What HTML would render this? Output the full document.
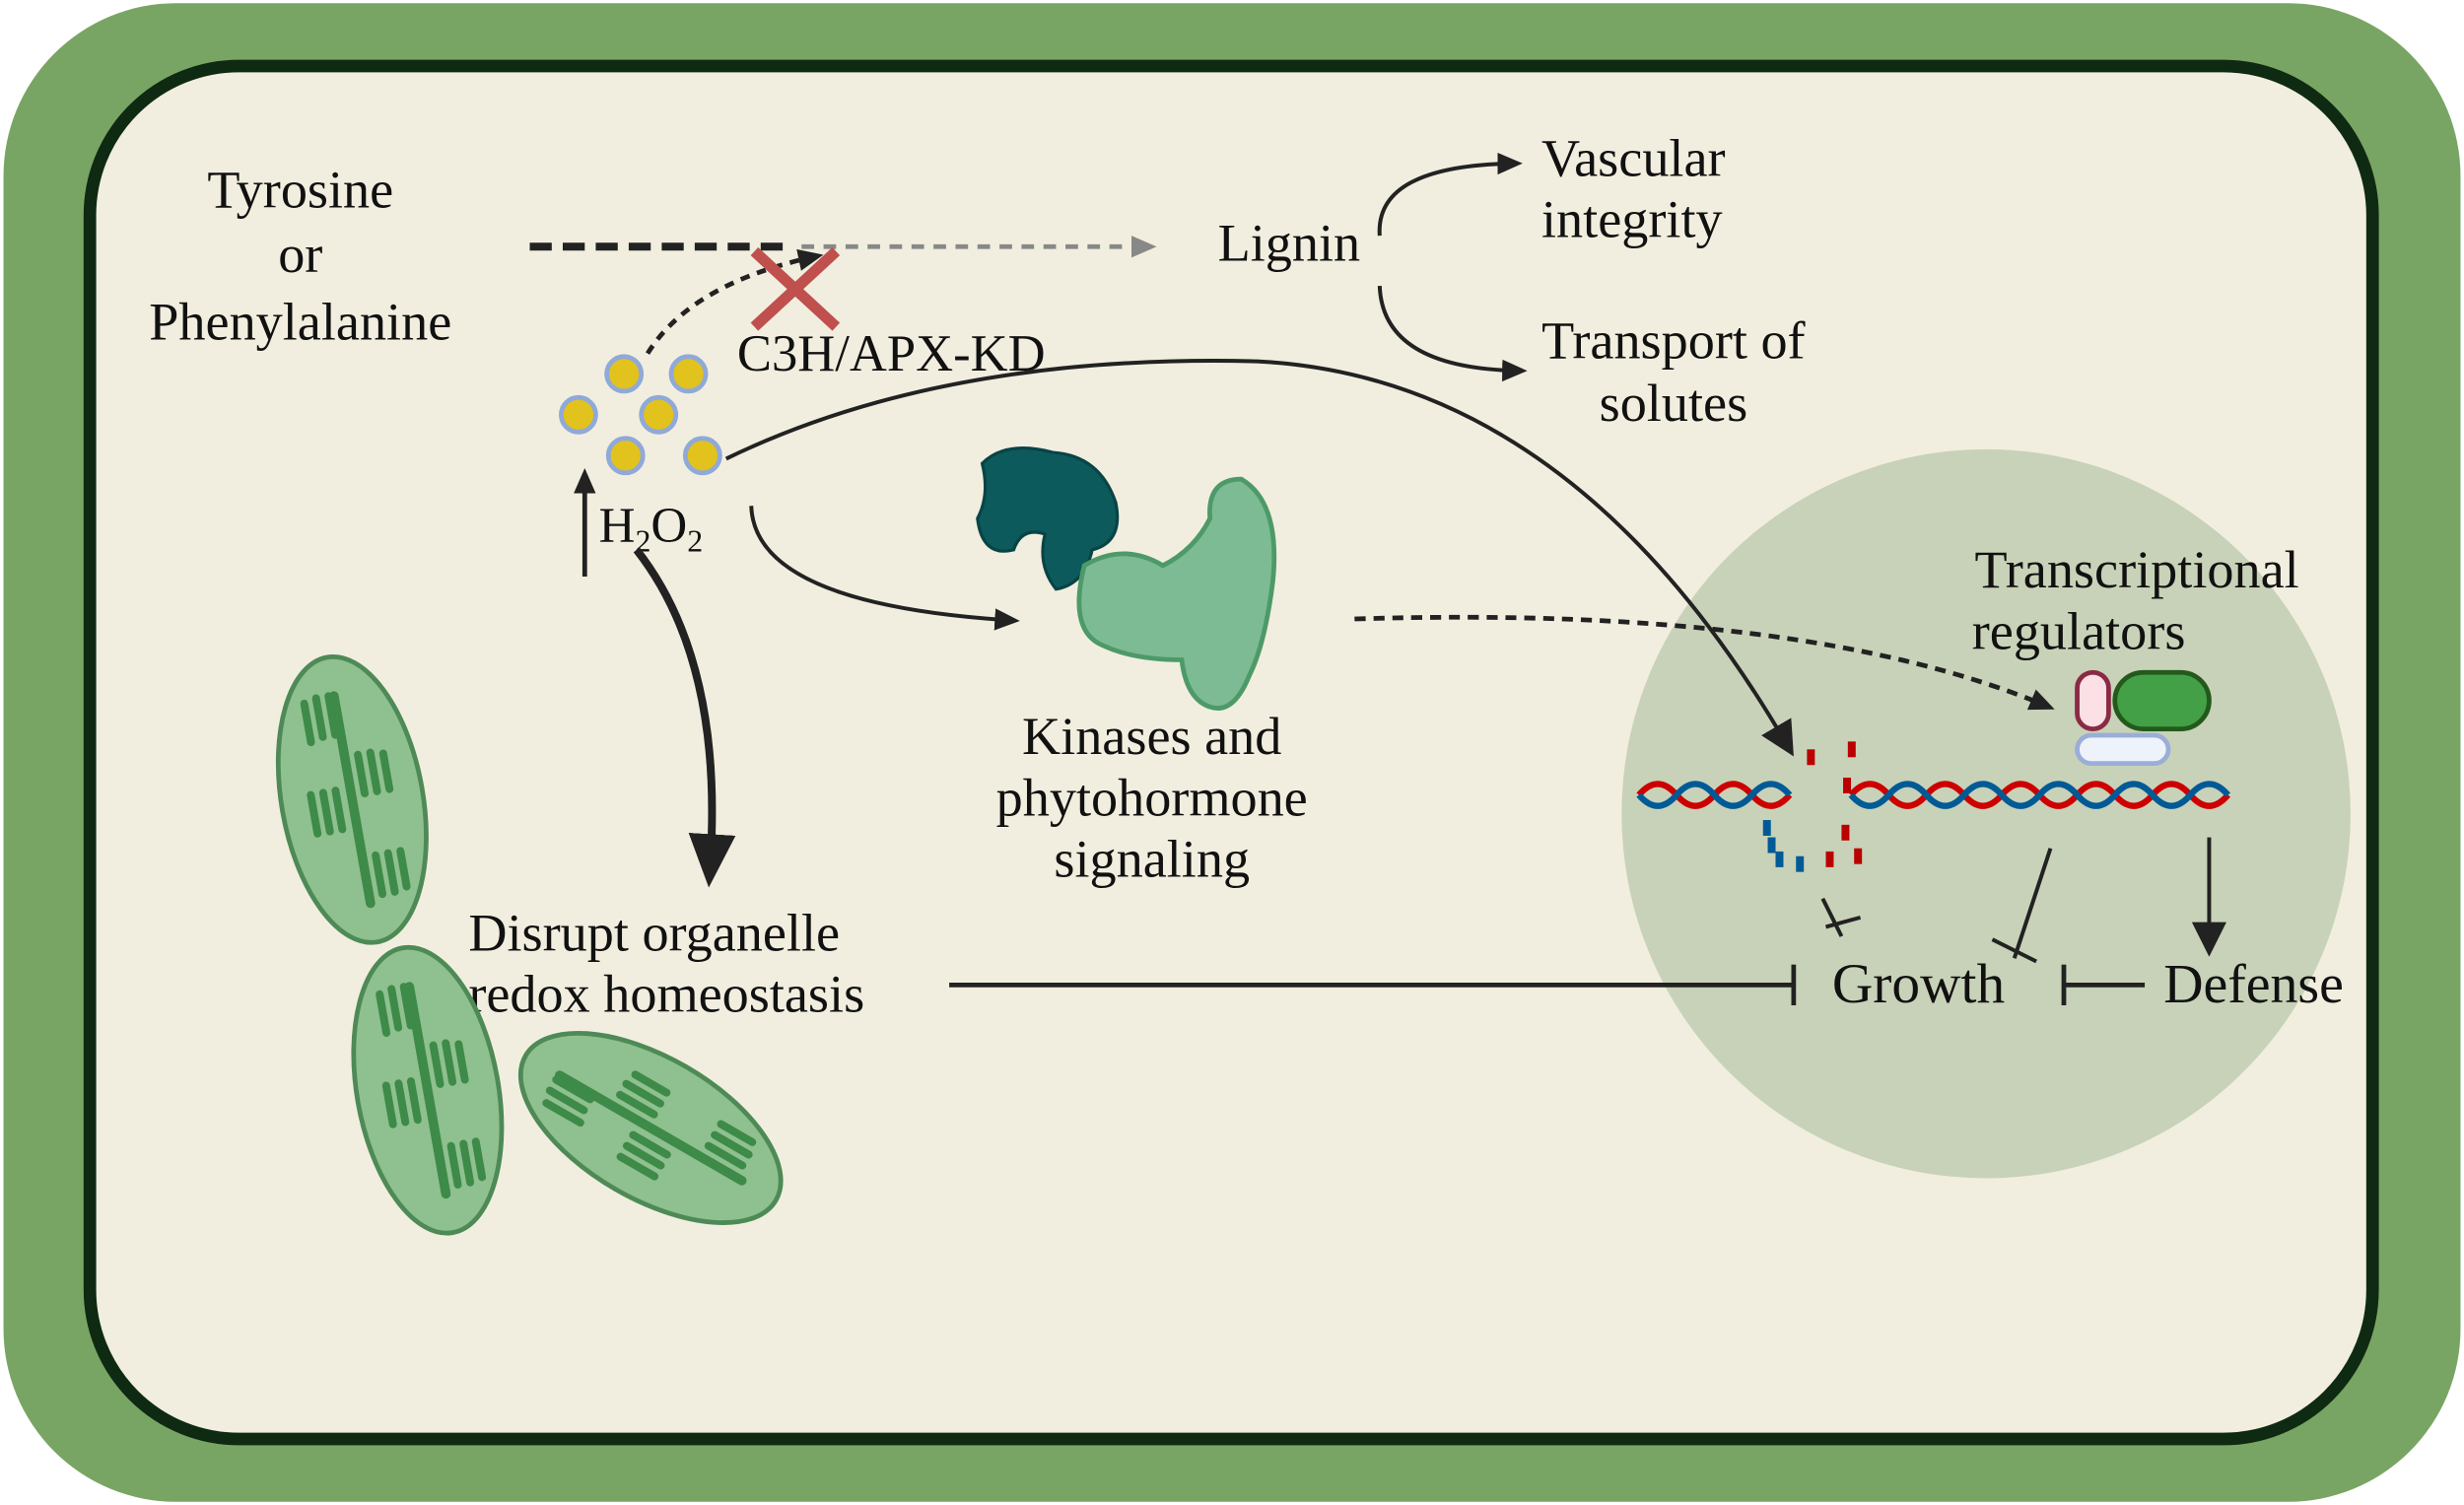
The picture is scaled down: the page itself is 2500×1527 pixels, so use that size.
<!DOCTYPE html>
<html><head><meta charset="utf-8"><style>
html,body{margin:0;padding:0;background:#fff;}
svg{display:block;}
text{font-family:"Liberation Serif",serif;fill:#111;}
</style></head><body>
<svg width="2500" height="1527" viewBox="0 0 1568 958" xmlns="http://www.w3.org/2000/svg">
<defs>
<marker id="ah" markerWidth="16" markerHeight="16" refX="12" refY="8" orient="auto" markerUnits="userSpaceOnUse" viewBox="0 0 16 16"><path d="M0,1 L16,8 L0,15 z" fill="#222"/></marker>
<marker id="ahb" markerWidth="22" markerHeight="22" refX="11" refY="11" orient="auto" markerUnits="userSpaceOnUse" viewBox="0 0 22 22"><path d="M0,0 L22,11 L0,22 z" fill="#222"/></marker>
<marker id="ahh" markerWidth="34" markerHeight="34" refX="17" refY="17" orient="auto" markerUnits="userSpaceOnUse" viewBox="0 0 34 34"><path d="M0,2 L34,17 L0,32 z" fill="#222"/></marker>
<marker id="ahg" markerWidth="16" markerHeight="16" refX="12" refY="8" orient="auto" markerUnits="userSpaceOnUse" viewBox="0 0 16 16"><path d="M0,1 L16,8 L0,15 z" fill="#888"/></marker>
<marker id="bar" markerWidth="4" markerHeight="26" refX="2" refY="13" orient="auto" markerUnits="userSpaceOnUse" viewBox="0 0 4 26"><rect x="0" y="0" width="3" height="26" fill="#222"/></marker>
<g id="chl">
<ellipse cx="0" cy="0" rx="45" ry="92" fill="#8fc08f" stroke="#4e8a56" stroke-width="3"/>
<g fill="#3e8a48">
<rect x="-3" y="-70" width="6" height="140" rx="3"/>
<rect x="-22" y="-68" width="5" height="30" rx="2.5"/><rect x="-14" y="-70" width="5" height="30" rx="2.5"/><rect x="-6" y="-70" width="5" height="30" rx="2.5"/>
<rect x="6" y="-30" width="5" height="30" rx="2.5"/><rect x="14" y="-30" width="5" height="30" rx="2.5"/><rect x="22" y="-28" width="5" height="28" rx="2.5"/>
<rect x="-28" y="-10" width="5" height="30" rx="2.5"/><rect x="-20" y="-10" width="5" height="30" rx="2.5"/><rect x="-12" y="-10" width="5" height="30" rx="2.5"/>
<rect x="6" y="35" width="5" height="30" rx="2.5"/><rect x="14" y="35" width="5" height="30" rx="2.5"/><rect x="22" y="35" width="5" height="28" rx="2.5"/>
</g></g>
</defs>
<rect x="0" y="0" width="1568" height="958" fill="#fff"/>
<rect x="2" y="2" width="1564" height="954" rx="110" fill="#79a564"/>
<rect x="57" y="42" width="1453" height="874" rx="95" fill="#f1eedf" stroke="#0f2a12" stroke-width="8"/>
<circle cx="1264" cy="518" r="232" fill="#c8d2b8"/>

<!-- text -->
<g font-size="34">
<text x="191" y="132" text-anchor="middle">Tyrosine</text>
<text x="191" y="173" text-anchor="middle">or</text>
<text x="191" y="216" text-anchor="middle">Phenylalanine</text>
<text x="775" y="166">Lignin</text>
<text x="981" y="112">Vascular</text>
<text x="981" y="151">integrity</text>
<text x="1065" y="228" text-anchor="middle">Transport of</text>
<text x="1065" y="268" text-anchor="middle">solutes</text>
<text x="469" y="236" font-size="33">C3H/APX-KD</text>
<text x="381" y="345" font-size="32">H<tspan font-size="20" dy="6">2</tspan><tspan dy="-6">O</tspan><tspan font-size="20" dy="6">2</tspan></text>
<text x="733" y="480" text-anchor="middle">Kinases and</text>
<text x="733" y="519" text-anchor="middle">phytohormone</text>
<text x="733" y="558" text-anchor="middle">signaling</text>
<text x="298" y="605">Disrupt organelle</text>
<text x="298" y="644">redox homeostasis</text>
<text x="1360" y="374" text-anchor="middle">Transcriptional</text>
<text x="1255" y="413">regulators</text>
<text x="1166" y="638" font-size="36">Growth</text>
<text x="1377" y="638" font-size="35">Defense</text>
</g>

<!-- pathway arrows -->
<line x1="337" y1="157" x2="505" y2="157" stroke="#222" stroke-width="5" stroke-dasharray="14,7"/>
<line x1="510" y1="157" x2="732" y2="157" stroke="#888" stroke-width="3" stroke-dasharray="8,6" marker-end="url(#ahg)"/>
<path d="M412,225 Q440,180 520,163" fill="none" stroke="#222" stroke-width="3" stroke-dasharray="6,5" marker-end="url(#ah)"/>
<path d="M480,160 L532,208 M532,160 L480,208" stroke="#c0504d" stroke-width="7"/>
<path d="M878,150 Q875,105 965,104" fill="none" stroke="#222" stroke-width="2.5" marker-end="url(#ah)"/>
<path d="M878,182 Q880,235 968,236" fill="none" stroke="#222" stroke-width="2.5" marker-end="url(#ah)"/>

<!-- H2O2 dots -->
<g fill="#e2c21d" stroke="#8fa9d8" stroke-width="3">
<circle cx="397" cy="238" r="11"/><circle cx="438" cy="238" r="11"/><circle cx="368" cy="264" r="11"/><circle cx="419" cy="264" r="11"/><circle cx="398" cy="290" r="11"/><circle cx="447" cy="290" r="11"/>
</g>
<line x1="372" y1="367" x2="372" y2="302" stroke="#222" stroke-width="3" marker-end="url(#ah)"/>
<path d="M462,292 Q600,225 800,230 Q1000,240 1136,472" fill="none" stroke="#222" stroke-width="2.5" marker-end="url(#ahb)"/>
<path d="M478,322 Q480,385 645,395" fill="none" stroke="#222" stroke-width="2.5" marker-end="url(#ah)"/>
<path d="M405,350 Q460,420 452,548" fill="none" stroke="#222" stroke-width="5" marker-end="url(#ahh)"/>
<path d="M862,394 Q1150,385 1304,450" fill="none" stroke="#222" stroke-width="3" stroke-dasharray="7,5" marker-end="url(#ah)"/>

<!-- kinase shapes -->
<path d="M625,295 Q640,280 670,288 Q700,290 710,320 Q715,345 695,350 Q690,372 672,375 Q660,360 665,340 Q650,335 645,350 Q625,355 622,330 Q630,315 625,295 z" fill="#0d5a5c" stroke="#084446" stroke-width="2"/>
<path d="M690,360 Q715,345 740,360 Q760,350 770,330 Q768,305 790,305 Q815,320 810,370 Q805,410 795,430 Q785,455 770,450 Q755,445 752,420 Q720,420 700,410 Q680,400 690,360 z" fill="#7dbb94" stroke="#4d9a68" stroke-width="3"/>

<!-- chloroplasts -->
<use href="#chl" transform="translate(224,509) rotate(-10)"/>
<use href="#chl" transform="translate(272,694) rotate(-10)"/>
<use href="#chl" transform="translate(414,718) rotate(-60)"/>

<!-- repression lines -->
<line x1="604" y1="627" x2="1142" y2="627" stroke="#222" stroke-width="3" marker-end="url(#bar)"/>
<line x1="1160" y1="572" x2="1172" y2="596" stroke="#222" stroke-width="2.5"/>
<line x1="1162" y1="590" x2="1184" y2="584" stroke="#222" stroke-width="2.5"/>
<line x1="1305" y1="540" x2="1282" y2="610" stroke="#222" stroke-width="2.5"/>
<line x1="1268" y1="598" x2="1296" y2="612" stroke="#222" stroke-width="2.5"/>
<line x1="1406" y1="533" x2="1406" y2="598" stroke="#222" stroke-width="2.5" marker-end="url(#ahb)"/>
<line x1="1365" y1="627" x2="1313" y2="627" stroke="#222" stroke-width="3" marker-end="url(#bar)"/>

<!-- DNA -->
<g fill="none" stroke-width="4">
<path d="M1043,506 q12,-14 24,0 t24,0 t24,0 t24,0" stroke="#c00"/>
<path d="M1043,506 q12,14 24,0 t24,0 t24,0 t24,0" stroke="#005a96"/>
<path d="M1178,506 q12,-14 24,0 t24,0 t24,0 t24,0 t24,0 t24,0 t24,0 t24,0 t24,0 t24,0" stroke="#c00"/>
<path d="M1178,506 q12,14 24,0 t24,0 t24,0 t24,0 t24,0 t24,0 t24,0 t24,0 t24,0 t24,0" stroke="#005a96"/>
</g>
<g fill="#b00">
<rect x="1150" y="477" width="5" height="10"/><rect x="1176" y="472" width="5" height="10"/><rect x="1173" y="495" width="5" height="10"/><rect x="1162" y="542" width="5" height="10"/><rect x="1180" y="540" width="5" height="10"/><rect x="1172" y="525" width="5" height="10"/>
</g>
<g fill="#005a96"><rect x="1125" y="533" width="5" height="10"/><rect x="1122" y="522" width="5" height="10"/><rect x="1130" y="542" width="5" height="10"/><rect x="1143" y="545" width="5" height="10"/></g>

<!-- transcriptional regulators -->
<rect x="1322" y="428" width="20" height="36" rx="10" fill="#fbe1e6" stroke="#8a2a45" stroke-width="3"/>
<rect x="1346" y="428" width="60" height="36" rx="18" fill="#43a047" stroke="#235a1c" stroke-width="3"/>
<rect x="1322" y="468" width="58" height="18" rx="9" fill="#eef3fb" stroke="#9aaed8" stroke-width="3"/>
</svg>
</body></html>
